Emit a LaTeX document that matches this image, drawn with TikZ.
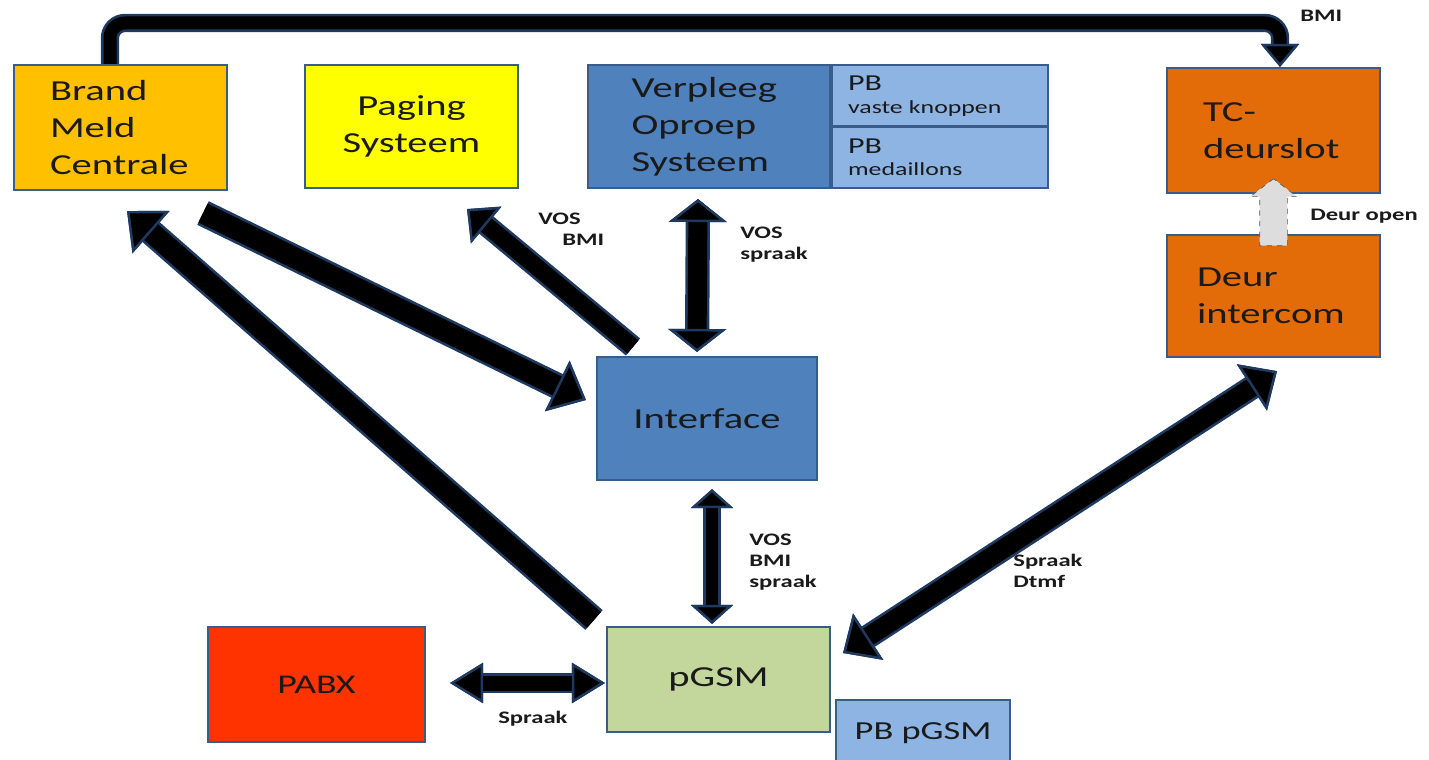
\documentclass[tikz,border=0pt]{standalone}
\usepackage{fontspec}
\setmainfont{Carlito}[FakeStretch=1.4]
\usetikzlibrary{arrows.meta, positioning, shapes.arrows}

\definecolor{boxedge}{HTML}{385D8A}
\definecolor{pipeedge}{HTML}{1F3A60}
\definecolor{textdark}{HTML}{1A1A1A}
\definecolor{bmcfill}{HTML}{FFC000}
\definecolor{pagingfill}{HTML}{FFFF00}
\definecolor{vosfill}{HTML}{4F81BD}
\definecolor{pbfill}{HTML}{8DB4E2}
\definecolor{tcfill}{HTML}{E36C09}
\definecolor{pgsmfill}{HTML}{C3D69B}
\definecolor{pabxfill}{HTML}{FF3300}
\definecolor{doorfill}{HTML}{DDDDDD}

\newcommand{\bigtext}{\fontsize{16.5}{21}\selectfont}
\newcommand{\pbtext}{\fontsize{10.5}{13}\selectfont}
\newcommand{\tagtext}{\fontsize{10}{12}\selectfont\bfseries}

\begin{document}
\begin{tikzpicture}[x=0.02cm, y=-0.02cm]
    \tikzset{
        component/.style = {rectangle, draw=boxedge, line width=1.2pt, text=textdark, font=\bigtext, inner sep=0pt},
        unit/.style = {component, minimum width=4.26cm, minimum height=2.5cm},
        pb/.style = {component, fill=pbfill, font=\pbtext, minimum width=4.32cm, minimum height=1.23cm, text width=3.68cm, align=left},
        tag/.style = {anchor=west, inner sep=0pt, align=left, text=textdark, font=\tagtext},
        line/.style n args = {3}{draw=black, line width=#1, preaction={draw=pipeedge, line width=#1+3pt}, -{Triangle[width=#2, length=#3, color=pipeedge, fill=black, line width=1.4pt]}},
        dline/.style n args = {3}{draw=black, line width=#1, preaction={draw=pipeedge, line width=#1+3pt}, {Triangle[width=#2, length=#3, color=pipeedge, fill=black, line width=1.4pt]}-{Triangle[width=#2, length=#3, color=pipeedge, fill=black, line width=1.4pt]}},
        dooropen/.style = {single arrow, draw=gray!70!black, dashed, fill=doorfill, rotate=90, inner xsep=0pt, inner ysep=0.27cm, minimum height=1.34cm, single arrow head extend=0.19cm, single arrow tip angle=105}
    }

    \useasboundingbox (0,0) rectangle (1429,760);

    \node[unit, fill=bmcfill, text width=2.82cm, align=left](bmc) at (120.5,127.5){Brand\\Meld\\Centrale};
    \node[unit, fill=pagingfill, minimum height=2.46cm, align=center](paging) at (411.5,126.5){Paging\\Systeem};
    \node[component, fill=vosfill, minimum width=4.84cm, minimum height=2.46cm, text width=3.1cm, align=left](vos) at (709,126.5){Verpleeg\\Oproep\\Systeem};
    \node[pb, anchor=north west](pb_1) at (vos.north east){{\fontsize{13}{13}\selectfont PB}\\vaste knoppen};
    \node[pb](pb_2)[below = -1.2pt of pb_1]{{\fontsize{13}{13}\selectfont PB}\\medaillons};

    \node[unit, fill=tcfill, text width=2.82cm, align=left](tc) at (1273.5,130.5){TC-\\deurslot};
    \node[unit, fill=tcfill, minimum height=2.44cm, text width=3.06cm, align=left](deur)[below = 0.8cm of tc]{Deur\\intercom};

    \node[component, fill=vosfill, minimum width=4.4cm, minimum height=2.46cm](iface) at (707,418.5){Interface};
    \node[component, fill=pgsmfill, minimum width=4.46cm, minimum height=2.1cm](pgsm) at (718.5,679.5){pGSM};
    \node[component, fill=pbfill, font=\fontsize{14.8}{18}\selectfont, minimum width=3.48cm, minimum height=1.34cm, anchor=north west](pb_pgsm) at ([shift={(4,-34)}]pgsm.south east){PB pGSM};
    \node[component, fill=pabxfill, font=\fontsize{15.4}{18}\selectfont, minimum width=4.34cm, minimum height=2.3cm](pabx) at (316.5,684.5){PABX};

    \coordinate (bmi_top) at (700,23);

    \path [line={0.26cm}{0.76cm}{0.46cm}, rounded corners=0.3cm] ([shift={(-10.5,0)}]bmc.north) |- (bmi_top) -| ([shift={(6.5,0)}]tc.north);
    \path [line={0.42cm}{1.12cm}{0.64cm}] ([shift={(-12,-6)}]pgsm.north west) -- ([shift={(6.5,20)}]bmc.south);
    \path [line={0.42cm}{1.12cm}{0.64cm}] ([shift={(82.5,22)}]bmc.south) -- ([shift={(-10,-18.5)}]iface.west);
    \path [line={0.34cm}{0.95cm}{0.5cm}] ([shift={(-74,-9)}]iface.north) -- ([shift={(55.5,20)}]paging.south);
    \path [dline={0.38cm}{1.16cm}{0.46cm}] ([shift={(-11,10)}]vos.south) -- ([shift={(-10,-4)}]iface.north);
    \path [dline={0.24cm}{0.84cm}{0.38cm}] ([shift={(5,8)}]iface.south) -- ([shift={(-6.5,-2)}]pgsm.north);
    \path [dline={0.38cm}{1.1cm}{0.6cm}] ([shift={(3.5,13)}]deur.south) -- ([shift={(12,-26.5)}]pgsm.east);
    \path [dline={0.3cm}{0.8cm}{0.66cm}] ([shift={(24,-1.5)}]pabx.east) -- ([shift={(-1,3.5)}]pgsm.west);
    \path ([shift={(0,17)}]deur.north) -- ([shift={(0,-10)}]tc.south) node[midway, dooropen](deur_open){};

    \node[tag](l_bmi) at (1300,16){BMI};
    \node[tag](l_vos_bmi) at (538,229){VOS\\\hspace*{0.48cm}BMI};
    \node[tag](l_vos_spraak) at (740,245){VOS\\spraak};
    \node[tag](l_iface_pgsm) at (749,562){VOS\\BMI\\spraak};
    \node[tag](l_deur_pgsm) at (1013,571){Spraak\\Dtmf};
    \node[tag](l_pabx) at (498,719){Spraak};
    \node[tag](l_deur_open) at (1310,216){Deur open};
\end{tikzpicture}
\end{document}
